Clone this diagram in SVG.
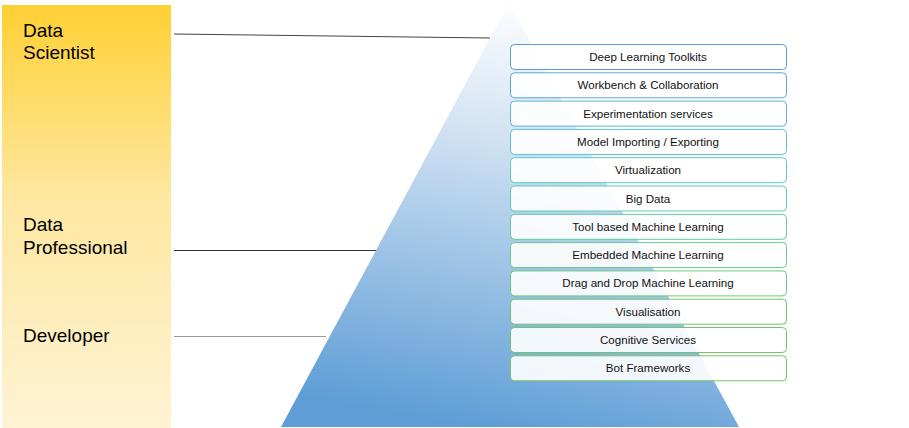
<svg xmlns="http://www.w3.org/2000/svg" width="909" height="428" viewBox="0 0 909 428">
<defs>
<linearGradient id="gBar" x1="0" y1="0" x2="0" y2="1">
<stop offset="0" stop-color="#FFD033"/>
<stop offset="0.45" stop-color="#FEE7A0"/>
<stop offset="1" stop-color="#FFF3D4"/>
</linearGradient>
<linearGradient id="gTri" x1="0.6" y1="0" x2="0.4" y2="1">
<stop offset="0" stop-color="#FFFFFF"/>
<stop offset="0.3" stop-color="#D6E5F4"/>
<stop offset="1" stop-color="#5E9DD6"/>
</linearGradient>
</defs>
<style>
.lbl{font-family:"Liberation Sans",Arial,sans-serif;font-size:19px;fill:#000}
.bx rect{fill:#FFFFFF;fill-opacity:0.9;stroke-width:1}
.bx text{font-family:"Liberation Sans",Arial,sans-serif;font-size:11.6px;fill:#111;text-anchor:middle}
.con line{stroke-width:1}
</style>
<rect width="909" height="428" fill="#FFFFFF"/>
<g id="bar">
<rect x="2" y="5" width="169" height="423" fill="url(#gBar)"/>
</g>
<g id="pyramid">
<polygon points="509,3 281,427 739,427" fill="url(#gTri)"/>
</g>
<g id="roles">
<g id="role-scientist"><text class="lbl" x="23" y="37">Data</text><text class="lbl" x="23" y="59">Scientist</text></g>
<g id="role-professional"><text class="lbl" x="23" y="231">Data</text><text class="lbl" x="23" y="254">Professional</text></g>
<g id="role-developer"><text class="lbl" x="23" y="342">Developer</text></g>
</g>
<g id="connectors" class="con">
<line x1="174" y1="34" x2="490" y2="38" stroke="#444"/>
<line x1="174" y1="250.5" x2="376" y2="250.5" stroke="#333"/>
<line x1="174" y1="336.5" x2="326" y2="336.5" stroke="#999"/>
</g>
<g id="layers">
<g id="l1" class="bx"><rect x="510.5" y="44.5" width="276" height="25" rx="4" stroke="#5B9BD5"/><text x="648" y="61">Deep Learning Toolkits</text></g>
<g id="l2" class="bx"><rect x="510.5" y="72.8" width="276" height="25" rx="4" stroke="#5AA7D5"/><text x="648" y="89.3">Workbench &amp; Collaboration</text></g>
<g id="l3" class="bx"><rect x="510.5" y="101.1" width="276" height="25" rx="4" stroke="#5AB5D3"/><text x="648" y="117.6">Experimentation services</text></g>
<g id="l4" class="bx"><rect x="510.5" y="129.4" width="276" height="25" rx="4" stroke="#5BC1CF"/><text x="648" y="145.9">Model Importing / Exporting</text></g>
<g id="l5" class="bx"><rect x="510.5" y="157.7" width="276" height="25" rx="4" stroke="#5DC8C4"/><text x="648" y="174.2">Virtualization</text></g>
<g id="l6" class="bx"><rect x="510.5" y="186" width="276" height="25" rx="4" stroke="#60CAB4"/><text x="648" y="202.5">Big Data</text></g>
<g id="l7" class="bx"><rect x="510.5" y="214.3" width="276" height="25" rx="4" stroke="#63C9A2"/><text x="648" y="230.8">Tool based Machine Learning</text></g>
<g id="l8" class="bx"><rect x="510.5" y="242.6" width="276" height="25" rx="4" stroke="#67C78F"/><text x="648" y="259.1">Embedded Machine Learning</text></g>
<g id="l9" class="bx"><rect x="510.5" y="270.9" width="276" height="25" rx="4" stroke="#6BC57E"/><text x="648" y="287.4">Drag and Drop Machine Learning</text></g>
<g id="l10" class="bx"><rect x="510.5" y="299.2" width="276" height="25" rx="4" stroke="#70C372"/><text x="648" y="315.7">Visualisation</text></g>
<g id="l11" class="bx"><rect x="510.5" y="327.5" width="276" height="25" rx="4" stroke="#75C26B"/><text x="648" y="344">Cognitive Services</text></g>
<g id="l12" class="bx"><rect x="510.5" y="355.8" width="276" height="25" rx="4" stroke="#7AC266"/><text x="648" y="372.3">Bot Frameworks</text></g>
</g>
</svg>
